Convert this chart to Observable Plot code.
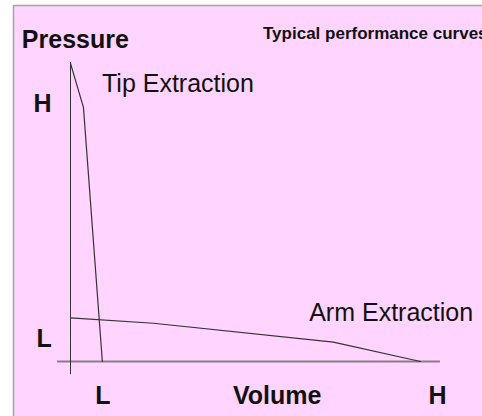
<!DOCTYPE html>
<html><head><meta charset="utf-8">
<script src="https://cdn.jsdelivr.net/npm/d3@7"></script>
<script src="https://cdn.jsdelivr.net/npm/@observablehq/plot@0.6"></script>
<style>html,body{margin:0;padding:0;background:#fff;} svg{display:block}</style>
</head><body><div id="chart"></div>
<script>
// Curve data (volume 0–100 = L..H, pressure 0–100 = L..H)
const tipVolume = [0, 3.7, 9.1];
const tipPressure = [99.7, 85, 0];
const armVolume = [0, 23.7, 75.1, 100];
const armPressure = [14.6, 12.8, 6.5, 0];
const seriesNames = ["Tip Extraction", "Arm Extraction"];
const axisTitles = ["Pressure", "Volume"];
const levelLabels = ["L", "H"];
const chartTitle = "Typical performance curves";

const tip = tipVolume.map((v, i) => ({v, p: tipPressure[i]}));
const arm = armVolume.map((v, i) => ({v, p: armPressure[i]}));

// annotations anchored in data space (start of text, baseline)
const boldLabels = [
  {x: -13.9, y: 105.0, t: axisTitles[0]},
  {x: 46.4, y: -14.2, t: axisTitles[1]},
  {x: -10.6, y: 83.3, t: levelLabels[1]},
  {x: -9.7, y: 4.7, t: levelLabels[0]},
  {x: 7.1, y: -14.2, t: levelLabels[0]},
  {x: 102.3, y: -14.2, t: levelLabels[1]}
];
const seriesLabels = [
  {x: 9.0, y: 90.3, t: seriesNames[0]},
  {x: 68.2, y: 13.7, t: seriesNames[1]}
];
const titleLabel = [{x: 55.0, y: 108.0, t: chartTitle}];

const plot = Plot.plot({
  width: 482, height: 416,
  marginLeft: 13, marginTop: 5, marginRight: 0, marginBottom: 0,
  x: {domain: [0, 100], range: [70, 420], axis: null},
  y: {domain: [0, 100], range: [361, 62], axis: null},
  style: {background: "#fff", fontFamily: "'Liberation Sans', Arial, sans-serif", overflow: "hidden"},
  marks: [
    Plot.frame({fill: "#ffd4ff", stroke: "#a3a3a3", strokeWidth: 1.5, insetRight: -4, insetBottom: -4}),
    Plot.ruleY([0], {x1: -3.7, x2: 105.7, stroke: "#8a7d8a", strokeWidth: 2}),
    Plot.ruleX([0], {y1: -4.4, y2: 100, stroke: "#333", strokeWidth: 1}),
    Plot.line(tip, {x: "v", y: "p", stroke: "#333", strokeWidth: 1.2}),
    Plot.line(arm, {x: "v", y: "p", stroke: "#333", strokeWidth: 1.2}),
    Plot.text(boldLabels, {x: "x", y: "y", text: "t", fontSize: 25, fontWeight: "bold", textAnchor: "start", lineAnchor: "bottom", fill: "#111"}),
    Plot.text(seriesLabels, {x: "x", y: "y", text: "t", fontSize: 25, textAnchor: "start", lineAnchor: "bottom", fill: "#111"}),
    Plot.text(titleLabel, {x: "x", y: "y", text: "t", fontSize: 17, fontWeight: "bold", textAnchor: "start", lineAnchor: "bottom", fill: "#111"})
  ]
});
document.getElementById("chart").appendChild(plot);
</script>
</body></html>
